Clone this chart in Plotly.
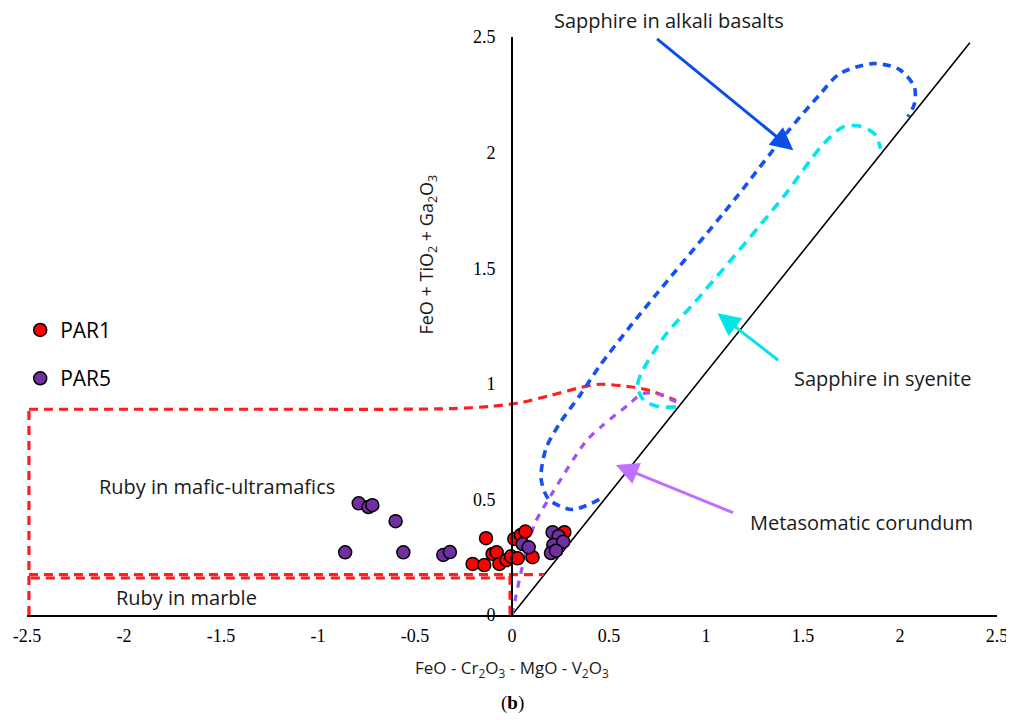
import plotly.graph_objects as go

# ---------------- data ----------------
par1_x = [-0.203, -0.143, -0.134, -0.100, -0.079, -0.065, -0.028, -0.005, 0.029, 0.106, 0.012, 0.046, 0.069, 0.270]
par1_y = [0.221, 0.216, 0.332, 0.264, 0.271, 0.221, 0.238, 0.254, 0.245, 0.250, 0.329, 0.346, 0.361, 0.358]

par5_x = [-0.79, -0.74, -0.72, -0.60, -0.86, -0.56, -0.354, -0.32,
          0.055, 0.086, 0.209, 0.240, 0.213, 0.264, 0.201, 0.227]
par5_y = [0.483, 0.467, 0.475, 0.406, 0.271, 0.271, 0.260, 0.272,
          0.307, 0.293, 0.358, 0.341, 0.303, 0.317, 0.268, 0.278]

# field boundaries
diag_x = [0.0, 2.36]
diag_y = [0.0, 2.475]

mafic_left_x = [-2.49, -2.49]
mafic_left_y = [0.0, 0.89]
mafic_top_x = [-2.49, -1.2, -0.6, -0.3, -0.1, 0.05, 0.2, 0.36, 0.453, 0.62, 0.71, 0.845]
mafic_top_y = [0.89, 0.89, 0.89, 0.893, 0.903, 0.92, 0.95, 0.985, 0.998, 0.986, 0.971, 0.928]

marble_top1_x = [-2.49, 0.165]
marble_top1_y = [0.175, 0.175]
marble_top2_x = [-2.48, -0.01]
marble_top2_y = [0.16, 0.16]
marble_right_x = [-0.01, -0.01]
marble_right_y = [0.17, 0.0]

basalt_x = [0.45, 0.31, 0.19, 0.15, 0.175, 0.25, 0.35, 0.45, 0.62, 1.15, 1.42, 1.585, 1.687, 1.859, 1.996, 2.074, 2.074, 2.04]
basalt_y = [0.50, 0.456, 0.50, 0.589, 0.72, 0.834, 0.95, 1.075, 1.26, 1.80, 2.09, 2.25, 2.34, 2.385, 2.36, 2.284, 2.21, 2.155]

syenite_x = [0.845, 0.76, 0.68, 0.647, 0.665, 0.79, 0.95, 1.40, 1.593, 1.704, 1.79, 1.87, 1.90]
syenite_y = [0.90, 0.90, 0.928, 0.986, 1.043, 1.21, 1.36, 1.81, 2.025, 2.11, 2.115, 2.08, 2.017]

meta_x = [0.0, 0.02, 0.045, 0.075, 0.12, 0.21, 0.38, 0.467, 0.605, 0.67, 0.75, 0.83, 0.87]
meta_y = [0.0, 0.08, 0.18, 0.28, 0.40, 0.53, 0.75, 0.82, 0.913, 0.957, 0.957, 0.928, 0.915]

x_ticks = [-2.5, -2, -1.5, -1, -0.5, 0, 0.5, 1, 1.5, 2, 2.5]
x_ticktext = ["-2.5", "-2", "-1.5", "-1", "-0.5", "0", "0.5", "1", "1.5", "2", "2.5"]
y_ticks = [0, 0.5, 1, 1.5, 2, 2.5]
y_ticktext = ["0", "0.5", "1", "1.5", "2", "2.5"]

# ---------------- styles ----------------
RED = "#FF1E1E"
BLUE = "#1450F5"
CYAN = "#00E6EE"
VIOLET = "#A64DFF"
SANS = "Open Sans"
SERIF = "Liberation Serif"
TXT = "#1a1a1a"

fig = go.Figure()

def dline(x, y, color, width, dash, shape="linear"):
    fig.add_trace(go.Scatter(x=x, y=y, mode="lines", showlegend=False, hoverinfo="skip",
                             cliponaxis=False,
                             line=dict(color=color, width=width, dash=dash, shape=shape, smoothing=0.8)))

dline(diag_x, diag_y, "black", 1.6, "solid")
dline(mafic_left_x, mafic_left_y, RED, 3.2, "9px,6px")
dline(mafic_top_x, mafic_top_y, RED, 3.2, "9px,6px", "spline")
dline(marble_top1_x, marble_top1_y, RED, 3.2, "9px,6px")
dline(marble_top2_x, marble_top2_y, RED, 3.2, "9px,6px")
dline(marble_right_x, marble_right_y, RED, 3.2, "9px,6px")
dline(basalt_x, basalt_y, BLUE, 3.6, "8px,6px", "spline")
dline(syenite_x, syenite_y, CYAN, 3.6, "10px,7px", "spline")
dline(meta_x, meta_y, VIOLET, 3.2, "7px,7px", "spline")

fig.add_trace(go.Scatter(x=par1_x, y=par1_y, mode="markers", name="PAR1",
                         legendgroup="a",
                         marker=dict(color="#FF0000", size=13, line=dict(color="black", width=1.5))))
fig.add_trace(go.Scatter(x=par5_x, y=par5_y, mode="markers", name="PAR5",
                         legendgroup="b",
                         marker=dict(color="#7030A0", size=13, line=dict(color="black", width=1.5))))

# arrows
arrows = [
    dict(x=1.45, y=2.01, ax=0.74, ay=2.497, color="#0A4EEA"),
    dict(x=1.06, y=1.305, ax=1.38, ay=1.097, color="#00E5E5"),
    dict(x=0.535, y=0.649, ax=1.147, ay=0.44, color="#C070FF"),
]
for a in arrows:
    fig.add_annotation(x=a["x"], y=a["y"], ax=a["ax"], ay=a["ay"], xref="x", yref="y",
                       axref="x", ayref="y", text="", showarrow=True, arrowhead=2,
                       arrowsize=1.5, arrowwidth=3, arrowcolor=a["color"])

labels = [
    ("Sapphire in syenite", 1.91, 1.025),
    ("Metasomatic corundum", 1.80, 0.40),
    ("Ruby in mafic-ultramafics", -1.52, 0.554),
    ("Ruby in marble", -1.68, 0.074),
]
for t, x, y in labels:
    fig.add_annotation(x=x, y=y, xref="x", yref="y", text=t, showarrow=False,
                       xanchor="center", yanchor="middle",
                       font=dict(family=SANS, size=20, color=TXT))
fig.add_annotation(x=0.81, y=1.029, xref="x", yref="paper", text="Sapphire in alkali basalts",
                   showarrow=False, xanchor="center", yanchor="middle",
                   font=dict(family=SANS, size=20, color=TXT))

# axis titles
fig.add_annotation(x=-0.437, y=1.56, xref="x", yref="y", text="FeO + TiO<sub>2</sub> + Ga<sub>2</sub>O<sub>3</sub>",
                   textangle=-90, showarrow=False, xanchor="center", yanchor="middle",
                   font=dict(family=SANS, size=18, color=TXT))
fig.add_annotation(x=0.5, y=-0.092, xref="paper", yref="paper",
                   text="FeO - Cr<sub>2</sub>O<sub>3</sub> - MgO - V<sub>2</sub>O<sub>3</sub>",
                   showarrow=False, xanchor="center", yanchor="middle",
                   font=dict(family=SANS, size=17, color=TXT))
fig.add_annotation(x=0.5, y=-0.152, xref="paper", yref="paper", text="(<b>b</b>)",
                   showarrow=False, xanchor="center", yanchor="middle",
                   font=dict(family=SERIF, size=19, color="black"))

fig.update_layout(
    width=1006, height=712,
    margin=dict(l=19, r=17, t=29, b=105),
    plot_bgcolor="white", paper_bgcolor="white",
    showlegend=True,
    legend=dict(x=-0.007, y=0.528, xanchor="left", yanchor="top", bgcolor="rgba(0,0,0,0)",
                font=dict(family=SANS, size=21, color="black"), tracegroupgap=18),
    xaxis=dict(range=[-2.5, 2.5], showgrid=False, zeroline=False, showline=True,
               linecolor="black", linewidth=2, ticks="", tickvals=x_ticks, ticktext=x_ticktext,
               tickfont=dict(family=SERIF, size=18, color="black"), ticklabelstandoff=3,
               automargin=False),
    yaxis=dict(range=[0, 2.5], showgrid=False, zeroline=False, showline=True,
               linecolor="black", linewidth=1.6, ticks="", tickvals=y_ticks, ticktext=y_ticktext,
               anchor="free", position=0.5, side="left",
               tickfont=dict(family=SERIF, size=18, color="black"), ticklabelstandoff=12,
               automargin=False),
)

fig.write_html("out.html")
